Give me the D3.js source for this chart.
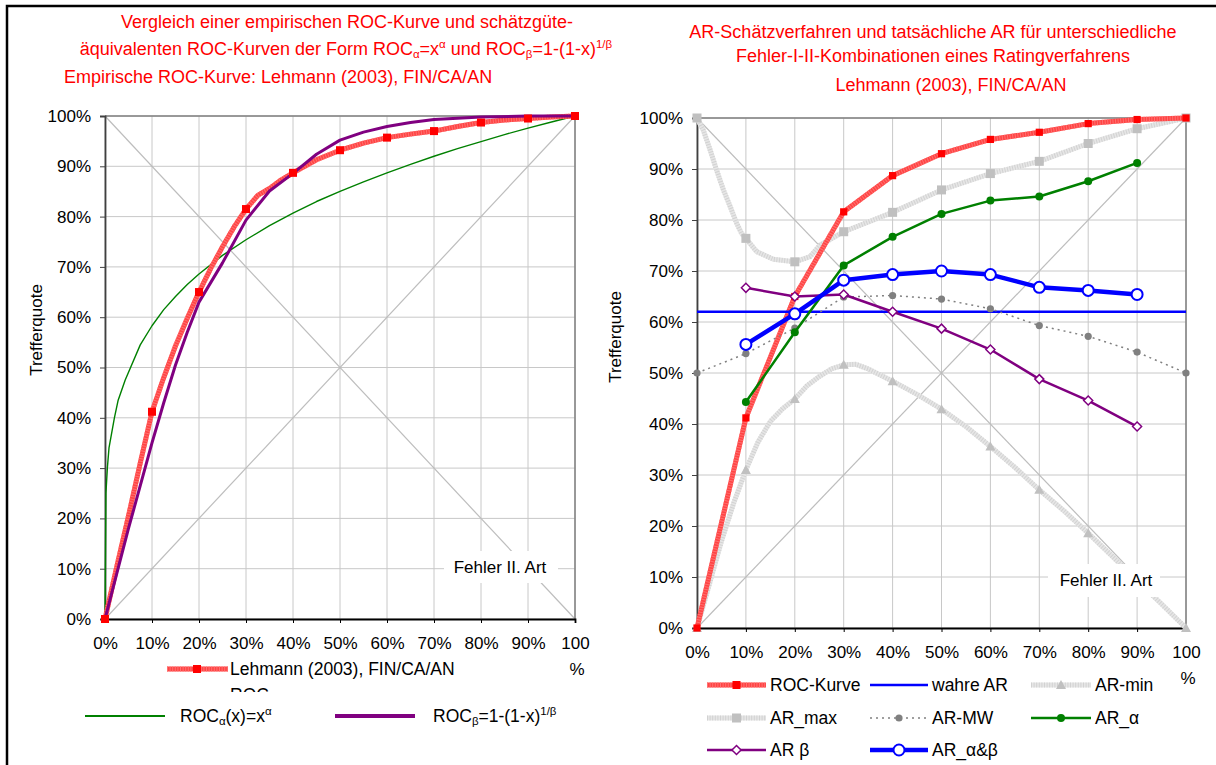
<!DOCTYPE html>
<html><head><meta charset="utf-8">
<script src="https://cdn.jsdelivr.net/npm/d3@7"></script>
<style>
body{margin:0;background:#fff;}
svg{display:block;font-family:"Liberation Sans",Arial,sans-serif;}
</style></head><body>
<svg id="c" width="1216" height="765"></svg>
<script>
// ---------------- DATA ----------------
const pctTicks = [0,10,20,30,40,50,60,70,80,90,100];

// Left chart: empirical ROC curve (Lehmann 2003, FIN/CA/AN)
const empX = [0,2.5,5,7.5,10,12.5,15,17.5,20,22.5,25,27.5,30,32.5,35,37.5,40,45,50,55,60,65,70,75,80,85,90,95,100];
const empY = [0,10.4,20.5,31,41.2,48,54.3,59.8,65,69.7,74,78,81.5,84.2,85.6,87.3,88.7,91.3,93.2,94.6,95.7,96.4,97,97.9,98.7,99.2,99.5,99.8,100];
// ROC_alpha(x) = x^alpha
const alphaX = [0,0.2,0.5,0.85,2,2.8,4.3,7.5,10,12.5,15,17.5,20,25,30,35,40,45,50,55,60,65,70,75,80,85,90,95,100];
const alphaY = [0,25,30,34,40,43.5,47.5,54.5,58.3,61.5,64.1,66.5,68.6,72.3,75.4,78.2,80.7,83,85,86.9,88.7,90.4,92,93.5,94.9,96.3,97.6,98.8,100];
// ROC_beta = 1-(1-x)^(1/beta)
const betaX = [0,2.5,5,7.5,10,12.5,15,17.5,20,25,30,35,40,45,50,55,60,65,70,80,90,100];
const betaY = [0,9,18,26.5,35,43,50.5,57,63,70.8,79.3,85.1,88.6,92.4,95.2,96.8,97.9,98.7,99.3,99.8,100,100];

// Right chart
const decX = [0,10,20,30,40,50,60,70,80,90,100];
const rocY = [0,41.2,65,81.6,88.7,93,95.8,97.2,98.9,99.7,100];
const arMaxX = [0,1.3,2.7,4,5.4,6.8,8.1,9.1,10,12.2,15.6,20,23.1,25.2,30,40,50,60,70,80,90,100];
const arMaxY = [100,97.6,93.7,89.8,85.9,82.6,79.4,77.4,76.4,73.8,72.3,71.8,72.8,75.1,77.7,81.5,85.9,89.1,91.5,95,97.9,100];
const arMinX = [0,2.5,5,7.5,10,12.5,15,17.5,20,22.5,25,27.5,30,32.5,35,40,45,50,55,60,65,70,75,80,85,90,95,100];
const arMinY = [0,8.5,17,24.5,31,36.5,40.5,43,44.9,47.5,49.3,50.8,51.6,51.7,50.8,48.4,45.8,42.9,39.5,35.6,31.5,27.1,23,18.6,14,9.3,4.7,0];
const arMwY = [50,53.8,58.8,64.9,65.2,64.5,62.6,59.3,57.2,54.1,50];
const estX = [10,20,30,40,50,60,70,80,90];
const arAlphaY = [44.3,58,71.1,76.7,81.2,83.8,84.6,87.6,91.2];
const arBetaY = [66.7,65,65.4,62,58.7,54.6,48.8,44.6,39.5];
const arAlphaBetaY = [55.6,61.6,68.2,69.3,70,69.3,66.8,66.2,65.4];
const wahreAR = 62;

// Texts
const leftTitle1 = "Vergleich einer empirischen ROC-Kurve und schätzgüte-";
const leftTitle2 = [["äquivalenten ROC-Kurven der Form ROC",""],["α","sub"],["=x",""],["α","sup"],[" und ROC",""],["β","sub"],["=1-(1-x)",""],["1/β","sup"]];
const leftTitle3 = "Empirische ROC-Kurve: Lehmann (2003), FIN/CA/AN";
const rightTitle = ["AR-Schätzverfahren und tatsächliche AR für unterschiedliche","Fehler-I-II-Kombinationen eines Ratingverfahrens","Lehmann (2003), FIN/CA/AN"];
const yTitle = "Trefferquote";
const xNote = "Fehler II. Art";
const legEmp = "Lehmann (2003), FIN/CA/AN";
const legAlpha = [["ROC",""],["α","sub"],["(x)=x",""],["α","sup"]];
const legBeta = [["ROC",""],["β","sub"],["=1-(1-x)",""],["1/β","sup"]];
const rightLegend = ["ROC-Kurve","wahre AR","AR-min","AR_max","AR-MW","AR_α","AR β","AR_α&β"];

// ---------------- DRAW ----------------
const FS = 17, TFS = 18;
const svg = d3.select("#c");
svg.append("rect").attr("width",1216).attr("height",765).attr("fill","#fff");
svg.append("path").attr("d","M7,765V6H1216").attr("fill","none").attr("stroke","#000").attr("stroke-width",2.5);

const zip = (xs, ys) => xs.map((v,i)=>[v,ys[i]]);

function rich(g, x, y, parts, anchor, fs, fill){
  const t = g.append("text").attr("x",x).attr("y",y).attr("text-anchor",anchor||"start")
    .attr("font-size",fs||FS).attr("fill",fill||"#000");
  parts.forEach(([s,type])=>{
    const ts = t.append("tspan").text(s);
    if(type==="sub"){ts.attr("font-size",11.5).attr("baseline-shift","-3");}
    if(type==="sup"){ts.attr("font-size",11.5).attr("baseline-shift","7");}
  });
  return t;
}

function frame(xs, ys){
  const g = svg.append("g");
  pctTicks.forEach(t=>{
    g.append("line").attr("x1",xs(t)).attr("x2",xs(t)).attr("y1",ys(0)).attr("y2",ys(100)).attr("stroke","#c8c8c8");
    g.append("line").attr("y1",ys(t)).attr("y2",ys(t)).attr("x1",xs(0)).attr("x2",xs(100)).attr("stroke","#c8c8c8");
  });
  g.append("line").attr("x1",xs(0)).attr("y1",ys(100)).attr("x2",xs(100)).attr("y2",ys(0)).attr("stroke","#bdbdbd").attr("stroke-width",1.2);
  g.append("line").attr("x1",xs(0)).attr("y1",ys(0)).attr("x2",xs(100)).attr("y2",ys(100)).attr("stroke","#bdbdbd").attr("stroke-width",1.2);
  g.append("path").attr("d",`M${xs(0)},${ys(100)}H${xs(100)}V${ys(0)}`).attr("fill","none").attr("stroke","#808080").attr("stroke-width",1.5);
  const ay = g.append("g").attr("transform",`translate(${xs(0)},0)`)
    .call(d3.axisLeft(ys).tickValues(pctTicks).tickFormat(d=>d+"%").tickSize(5).tickPadding(9));
  ay.attr("font-size",FS).attr("font-family",null);
  ay.select(".domain").attr("stroke","#404040").attr("stroke-width",1.8);
  ay.selectAll(".tick line").attr("stroke","#404040");
  const ax = g.append("g").attr("transform",`translate(0,${ys(0)})`)
    .call(d3.axisBottom(xs).tickValues(pctTicks).tickFormat(d=>d===100?"100":d+"%").tickSize(4).tickPadding(14));
  ax.attr("font-size",FS).attr("font-family",null);
  ax.select(".domain").attr("stroke","#000").attr("stroke-width",1.8);
  ax.selectAll(".tick line").attr("stroke","#000");
  g.append("text").attr("x",xs(100)+2).attr("y",ys(0)+56).attr("text-anchor","middle").attr("font-size",FS).text("%");
  return g;
}

function hatch(g, pts, xs, ys, base, stripe, w){
  const ln = d3.line().x(d=>xs(d[0])).y(d=>ys(d[1]));
  g.append("path").datum(pts).attr("d",ln).attr("fill","none").attr("stroke",base).attr("stroke-width",w).attr("stroke-linejoin","round");
  g.append("path").datum(pts).attr("d",ln).attr("fill","none").attr("stroke",stripe).attr("stroke-width",w).attr("stroke-dasharray","1 1.6").attr("stroke-linejoin","round");
}
function plain(g, pts, xs, ys, color, w, dash){
  const ln = d3.line().x(d=>xs(d[0])).y(d=>ys(d[1]));
  const p = g.append("path").datum(pts).attr("d",ln).attr("fill","none").attr("stroke",color).attr("stroke-width",w).attr("stroke-linejoin","round");
  if(dash) p.attr("stroke-dasharray",dash);
}
const diamondPath = r => `M0,${-r}L${r},0L0,${r}L${-r},0Z`;
function marker(g, type, cx, cy){
  const m = g.append("g").attr("transform",`translate(${cx},${cy})`);
  switch(type){
    case "redSq": m.append("rect").attr("x",-4).attr("y",-4).attr("width",8).attr("height",8).attr("fill","#ff0000"); break;
    case "redSqS": m.append("rect").attr("x",-3.6).attr("y",-3.6).attr("width",7.2).attr("height",7.2).attr("fill","#ff0000"); break;
    case "graySq": m.append("rect").attr("x",-4.5).attr("y",-4.5).attr("width",9).attr("height",9).attr("fill","#c0c0c0"); break;
    case "grayTri": m.append("path").attr("d","M0,-5L5,4L-5,4Z").attr("fill","#c0c0c0"); break;
    case "mw": m.append("circle").attr("r",3.6).attr("fill","#808080"); break;
    case "green": m.append("circle").attr("r",4).attr("fill","#008000"); break;
    case "diamond": m.append("path").attr("d",diamondPath(4.5)).attr("fill","#fff").attr("stroke","#800080").attr("stroke-width",1.5); break;
    case "openBlue": m.append("circle").attr("r",5.5).attr("fill","#fff").attr("stroke","#0000ff").attr("stroke-width",2); break;
  }
}
function noteBox(g, x0, y0, w, h, tx, ty){
  g.append("rect").attr("x",x0).attr("y",y0).attr("width",w).attr("height",h).attr("fill","#fff");
  g.append("text").attr("x",tx).attr("y",ty).attr("text-anchor","middle").attr("dominant-baseline","central").attr("font-size",FS).text(xNote);
}

// ===== LEFT CHART =====
const xL = d3.scaleLinear().domain([0,100]).range([105,575]);
const yL = d3.scaleLinear().domain([0,100]).range([619,116]);
const gL = frame(xL,yL);
plain(gL, zip(alphaX,alphaY), xL, yL, "#008000", 1.4);
hatch(gL, zip(empX,empY), xL, yL, "#ff4444", "#ff7070", 5);
plain(gL, zip(betaX,betaY), xL, yL, "#800080", 3);
zip(empX,empY).filter(d=>pctTicks.includes(d[0])).forEach(d=>marker(gL,"redSq",xL(d[0]),yL(d[1])));
noteBox(gL, 444, 551, 114, 32, 500, 567);
svg.append("text").attr("transform","translate(42,330) rotate(-90)").attr("text-anchor","middle").attr("font-size",FS).text(yTitle);

// titles left
const tL = svg.append("g");
tL.append("text").attr("x",347).attr("y",28).attr("text-anchor","middle").attr("font-size",TFS).attr("fill","#ff0000").text(leftTitle1);
rich(tL, 346, 55, leftTitle2, "middle", TFS, "#ff0000");
tL.append("text").attr("x",64).attr("y",83).attr("font-size",TFS).attr("fill","#ff0000").text(leftTitle3);

// legend left
const lgL = svg.append("g");
hatch(lgL, [[167,669],[228,669]], d=>d, d=>d, "#ff4444", "#ff7070", 5);
marker(lgL,"redSq",197,669);
lgL.append("text").attr("x",230).attr("y",669).attr("dominant-baseline","central").attr("font-size",17.5).text(legEmp);
svg.append("clipPath").attr("id","clipRoc").append("rect").attr("x",220).attr("y",670).attr("width",200).attr("height",22);
lgL.append("text").attr("x",230).attr("y",701).attr("font-size",17.5).attr("clip-path","url(#clipRoc)").text("ROC");
lgL.append("line").attr("x1",85).attr("x2",165).attr("y1",716).attr("y2",716).attr("stroke","#008000").attr("stroke-width",2);
rich(lgL, 180, 722, legAlpha, "start", 17.5);
lgL.append("line").attr("x1",335).attr("x2",415).attr("y1",716).attr("y2",716).attr("stroke","#800080").attr("stroke-width",4);
rich(lgL, 433, 722, legBeta, "start", 17.5);

// ===== RIGHT CHART =====
const xR = d3.scaleLinear().domain([0,100]).range([697,1186]);
const yR = d3.scaleLinear().domain([0,100]).range([628,118]);
const gR = frame(xR,yR);
hatch(gR, zip(arMinX,arMinY), xR, yR, "#e6e6e6", "#d2d2d2", 5);
zip(arMinX,arMinY).filter(d=>pctTicks.includes(d[0])).forEach(d=>marker(gR,"grayTri",xR(d[0]),yR(d[1])));
hatch(gR, zip(arMaxX,arMaxY), xR, yR, "#e6e6e6", "#d2d2d2", 5);
zip(arMaxX,arMaxY).filter(d=>pctTicks.includes(d[0])).forEach(d=>marker(gR,"graySq",xR(d[0]),yR(d[1])));
hatch(gR, zip(decX,rocY), xR, yR, "#ff4444", "#ff7070", 5);
zip(decX,rocY).forEach(d=>marker(gR,"redSqS",xR(d[0]),yR(d[1])));
plain(gR, [[0,wahreAR],[100,wahreAR]], xR, yR, "#0000ff", 2.5);
plain(gR, zip(decX,arMwY), xR, yR, "#808080", 1.5, "2 4");
zip(decX,arMwY).forEach(d=>marker(gR,"mw",xR(d[0]),yR(d[1])));
plain(gR, zip(estX,arAlphaY), xR, yR, "#008000", 2.5);
zip(estX,arAlphaY).forEach(d=>marker(gR,"green",xR(d[0]),yR(d[1])));
plain(gR, zip(estX,arBetaY), xR, yR, "#800080", 2.5);
zip(estX,arBetaY).forEach(d=>marker(gR,"diamond",xR(d[0]),yR(d[1])));
plain(gR, zip(estX,arAlphaBetaY), xR, yR, "#0000ff", 4.5);
zip(estX,arAlphaBetaY).forEach(d=>marker(gR,"openBlue",xR(d[0]),yR(d[1])));
noteBox(gR, 1048, 564, 112, 33, 1106, 580);
svg.append("text").attr("transform","translate(621,337) rotate(-90)").attr("text-anchor","middle").attr("font-size",FS).text(yTitle);

const tR = svg.append("g");
[[933,38],[933,62],[951,91]].forEach((p,i)=>{
  tR.append("text").attr("x",p[0]).attr("y",p[1]).attr("text-anchor","middle").attr("font-size",TFS).attr("fill","#ff0000").text(rightTitle[i]);
});

// legend right
const lgR = svg.append("g");
const cols = [[707,766,770],[870,928,932],[1031,1091,1095]];
const rows = [685,718,750];
const items = [
  {s:"red", m:"redSq"},{s:"blue", m:null},{s:"gray", m:"grayTri"},
  {s:"gray", m:"graySq"},{s:"mw", m:"mw"},{s:"green", m:"green"},
  {s:"purple", m:"diamond"},{s:"blueThick", m:"openBlue"}
];
items.forEach((it,i)=>{
  const c = cols[i%3], y = rows[Math.floor(i/3)];
  const pts = [[c[0],y],[c[1],y]];
  const id = d=>d;
  if(it.s==="red") hatch(lgR, pts, id, id, "#ff4444", "#ff7070", 5);
  if(it.s==="gray") hatch(lgR, pts, id, id, "#e6e6e6", "#d2d2d2", 5);
  if(it.s==="blue") plain(lgR, pts, id, id, "#0000ff", 2.5);
  if(it.s==="mw") plain(lgR, pts, id, id, "#808080", 1.5, "2 4");
  if(it.s==="green") plain(lgR, pts, id, id, "#008000", 2.5);
  if(it.s==="purple") plain(lgR, pts, id, id, "#800080", 2.5);
  if(it.s==="blueThick") plain(lgR, pts, id, id, "#0000ff", 4.5);
  if(it.m) marker(lgR, it.m, (c[0]+c[1])/2, y);
  lgR.append("text").attr("x",c[2]).attr("y",y).attr("dominant-baseline","central").attr("font-size",17.5).text(rightLegend[i]);
});
</script>
</body></html>
